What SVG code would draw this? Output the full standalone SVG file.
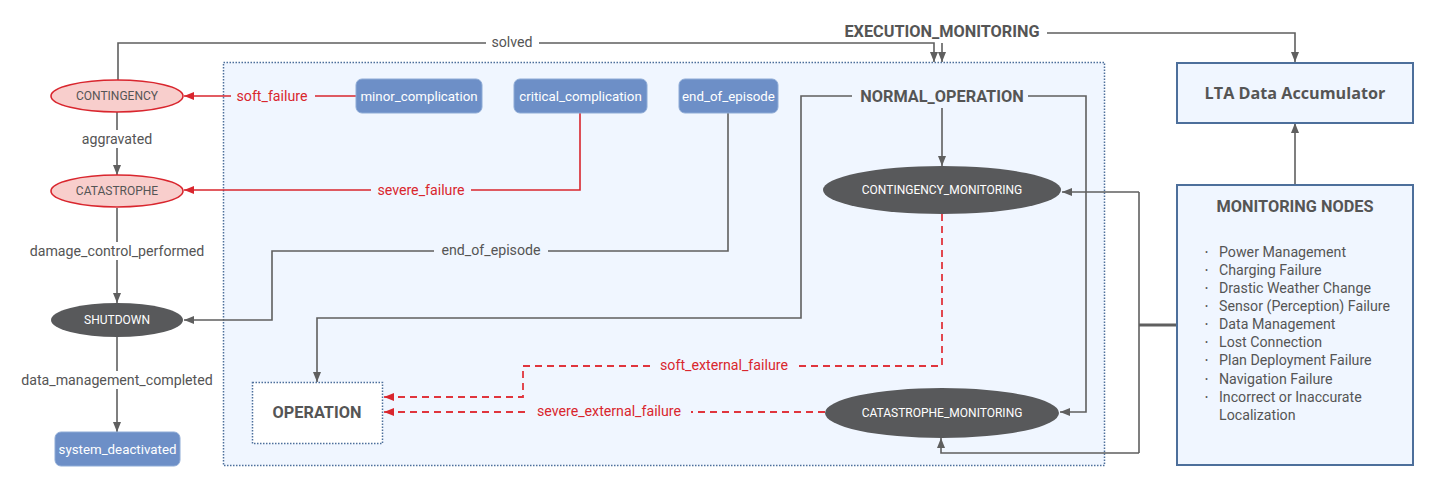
<svg xmlns="http://www.w3.org/2000/svg" width="1440" height="490" viewBox="0 0 1440 490">
<style>
.t{font-family:Roboto,"Liberation Sans",sans-serif;fill:#555;}
.b{font-weight:bold;font-size:16.3px;}
.lbl{font-size:14.2px;text-anchor:middle;dominant-baseline:central;}
.red{fill:#d9262e;}
.ell{font-size:12px;text-anchor:middle;dominant-baseline:central;}
.w{fill:#fff;}
.blue{fill:#6d8fc7;stroke:#8eabd6;stroke-width:1;}
.c{fill:none;stroke:#5f5f5f;stroke-width:1.6;}
.cr{fill:none;stroke:#d9262e;stroke-width:1.6;}
.cd{fill:none;stroke:#e0353d;stroke-width:1.8;stroke-dasharray:7 5;}
.box{fill:#f0f6ff;stroke:#4d6f9b;stroke-width:2;}
</style>
<defs>
<marker id="ag" viewBox="0 0 10 10" refX="10" refY="5" markerWidth="10" markerHeight="10" markerUnits="userSpaceOnUse" orient="auto"><path d="M0,1 L10,5 L0,9 Z" fill="#5f5f5f"/></marker>
<marker id="ar" viewBox="0 0 10 10" refX="10" refY="5" markerWidth="10" markerHeight="10" markerUnits="userSpaceOnUse" orient="auto"><path d="M0,1 L10,5 L0,9 Z" fill="#d9262e"/></marker>
</defs>
<rect width="1440" height="490" fill="#fff"/>

<g id="execution_monitoring_container">
<rect x="223.5" y="62.5" width="881" height="403" fill="#f0f6ff" stroke="#4d6f9b" stroke-width="1.5" stroke-dasharray="1.5 1.5"/>
</g>

<g id="connectors">
<path class="c" d="M118,80 V43 H934 V62" marker-end="url(#ag)"/>
<path class="c" d="M942,43 V62" marker-end="url(#ag)"/>
<path class="c" d="M1047,33 H1295 V62" marker-end="url(#ag)"/>
<path class="c" d="M1295,185 V123" marker-end="url(#ag)"/>
<path class="c" d="M1177,325 H1139" style="stroke-width:3"/>
<path class="c" d="M1139,192 V453"/>
<path class="c" d="M1139,192 H1062" marker-end="url(#ag)"/>
<path class="c" d="M1139,453 H941 V438" marker-end="url(#ag)"/>
<path class="c" d="M1028,96 H1086 V412 H1060" marker-end="url(#ag)"/>
<path class="c" d="M942,108 V166" marker-end="url(#ag)"/>
<path class="c" d="M852,96 H801 V318 H317 V382" marker-end="url(#ag)"/>
<path class="cr" d="M356,96 H184" marker-end="url(#ar)"/>
<path class="cr" d="M580,113 V190 H184" marker-end="url(#ar)"/>
<path class="c" d="M728,113 V251 H272 V320 H184" marker-end="url(#ag)"/>
<path class="c" d="M117,112 V175" marker-end="url(#ag)"/>
<path class="c" d="M117,208 V303" marker-end="url(#ag)"/>
<path class="c" d="M117,337 V432" marker-end="url(#ag)"/>
<path class="cd" d="M942,214 V366 H523 V397 H386"/>
<path class="cr" d="M393,397 H384" marker-end="url(#ar)"/>
<path class="cd" d="M825,412 H386"/>
<path class="cr" d="M393,412 H384" marker-end="url(#ar)"/>

<rect x="486" y="34" width="53" height="18" fill="#fff"/>
<text class="t lbl" x="512" y="42">solved</text>
<rect x="70" y="130" width="94" height="18" fill="#fff"/>
<text class="t lbl" x="117" y="139">aggravated</text>
<rect x="22" y="242" width="190" height="18" fill="#fff"/>
<text class="t lbl" x="117" y="251">damage_control_performed</text>
<rect x="15" y="371" width="204" height="18" fill="#fff"/>
<text class="t lbl" x="117" y="380">data_management_completed</text>
<rect x="231" y="87" width="84" height="18" fill="#f0f6ff"/>
<text class="t lbl red" x="272" y="96">soft_failure</text>
<rect x="371" y="181" width="100" height="18" fill="#f0f6ff"/>
<text class="t lbl red" x="421" y="190">severe_failure</text>
<rect x="434" y="242" width="114" height="18" fill="#f0f6ff"/>
<text class="t lbl" x="491" y="250">end_of_episode</text>
<rect x="652" y="357" width="144" height="18" fill="#f0f6ff"/>
<text class="t lbl red" x="724" y="365">soft_external_failure</text>
<rect x="528" y="403" width="163" height="18" fill="#f0f6ff"/>
<text class="t lbl red" x="609" y="411">severe_external_failure</text>
</g>

<g id="EXECUTION_MONITORING">
<text class="t b" x="942" y="31" text-anchor="middle" dominant-baseline="central">EXECUTION_MONITORING</text>
</g>
<g id="NORMAL_OPERATION">
<text class="t b" x="942" y="96" text-anchor="middle" dominant-baseline="central">NORMAL_OPERATION</text>
</g>

<g id="CONTINGENCY">
<ellipse cx="117" cy="96" rx="66" ry="16" fill="#f8cecc" stroke="#d9262e" stroke-width="1.6"/>
<text class="t ell" x="117" y="96">CONTINGENCY</text>
</g>
<g id="CATASTROPHE">
<ellipse cx="117" cy="191" rx="66" ry="16" fill="#f8cecc" stroke="#d9262e" stroke-width="1.6"/>
<text class="t ell" x="117" y="191">CATASTROPHE</text>
</g>
<g id="SHUTDOWN">
<ellipse cx="117" cy="320" rx="66" ry="17" fill="#58595b"/>
<text class="t ell w" x="117" y="320">SHUTDOWN</text>
</g>
<g id="system_deactivated">
<rect class="blue" x="55" y="432" width="125" height="34" rx="6"/>
<text class="t w" x="117.5" y="449" font-size="13.3" text-anchor="middle" dominant-baseline="central">system_deactivated</text>
</g>

<g id="minor_complication">
<rect class="blue" x="356" y="79" width="126" height="34" rx="6"/>
<text class="t w" x="419" y="96" font-size="13.3" text-anchor="middle" dominant-baseline="central">minor_complication</text>
</g>
<g id="critical_complication">
<rect class="blue" x="514" y="79" width="133" height="34" rx="6"/>
<text class="t w" x="580.5" y="96" font-size="13.3" text-anchor="middle" dominant-baseline="central">critical_complication</text>
</g>
<g id="end_of_episode">
<rect class="blue" x="679" y="79" width="99" height="34" rx="6"/>
<text class="t w" x="728.5" y="96" font-size="13.3" text-anchor="middle" dominant-baseline="central">end_of_episode</text>
</g>

<g id="CONTINGENCY_MONITORING">
<ellipse cx="942" cy="190" rx="119" ry="24" fill="#58595b"/>
<text class="t ell w" x="942" y="190">CONTINGENCY_MONITORING</text>
</g>
<g id="CATASTROPHE_MONITORING">
<ellipse cx="942" cy="413" rx="117" ry="25" fill="#58595b"/>
<text class="t ell w" x="942" y="413">CATASTROPHE_MONITORING</text>
</g>

<g id="OPERATION">
<rect x="252.5" y="382.5" width="130" height="61" fill="#fff" stroke="#4d6f9b" stroke-width="1.5" stroke-dasharray="1.5 1.5"/>
<text class="t b" x="317" y="412" text-anchor="middle" dominant-baseline="central">OPERATION</text>
</g>

<g id="LTA_Data_Accumulator">
<rect class="box" x="1177" y="63" width="236" height="60"/>
<text x="1295" y="93" font-family="'Open Sans','Liberation Sans',sans-serif" font-weight="bold" font-size="16.2" fill="#555" text-anchor="middle" dominant-baseline="central">LTA Data Accumulator</text>
</g>

<g id="MONITORING_NODES">
<rect class="box" x="1177" y="185" width="236" height="280"/>
<text class="t b" x="1295" y="206" text-anchor="middle" dominant-baseline="central">MONITORING NODES</text>
<g class="t" font-size="14.2">
<text x="1205" y="252" dominant-baseline="central" font-size="9">•</text>
<text x="1219" y="252" dominant-baseline="central">Power Management</text>
<text x="1205" y="270" dominant-baseline="central" font-size="9">•</text>
<text x="1219" y="270" dominant-baseline="central">Charging Failure</text>
<text x="1205" y="288" dominant-baseline="central" font-size="9">•</text>
<text x="1219" y="288" dominant-baseline="central">Drastic Weather Change</text>
<text x="1205" y="306" dominant-baseline="central" font-size="9">•</text>
<text x="1219" y="306" dominant-baseline="central">Sensor (Perception) Failure</text>
<text x="1205" y="324" dominant-baseline="central" font-size="9">•</text>
<text x="1219" y="324" dominant-baseline="central">Data Management</text>
<text x="1205" y="342" dominant-baseline="central" font-size="9">•</text>
<text x="1219" y="342" dominant-baseline="central">Lost Connection</text>
<text x="1205" y="360" dominant-baseline="central" font-size="9">•</text>
<text x="1219" y="360" dominant-baseline="central">Plan Deployment Failure</text>
<text x="1205" y="379" dominant-baseline="central" font-size="9">•</text>
<text x="1219" y="379" dominant-baseline="central">Navigation Failure</text>
<text x="1205" y="397" dominant-baseline="central" font-size="9">•</text>
<text x="1219" y="397" dominant-baseline="central">Incorrect or Inaccurate</text>
<text x="1219" y="415" dominant-baseline="central">Localization</text>
</g>
</g>
</svg>
